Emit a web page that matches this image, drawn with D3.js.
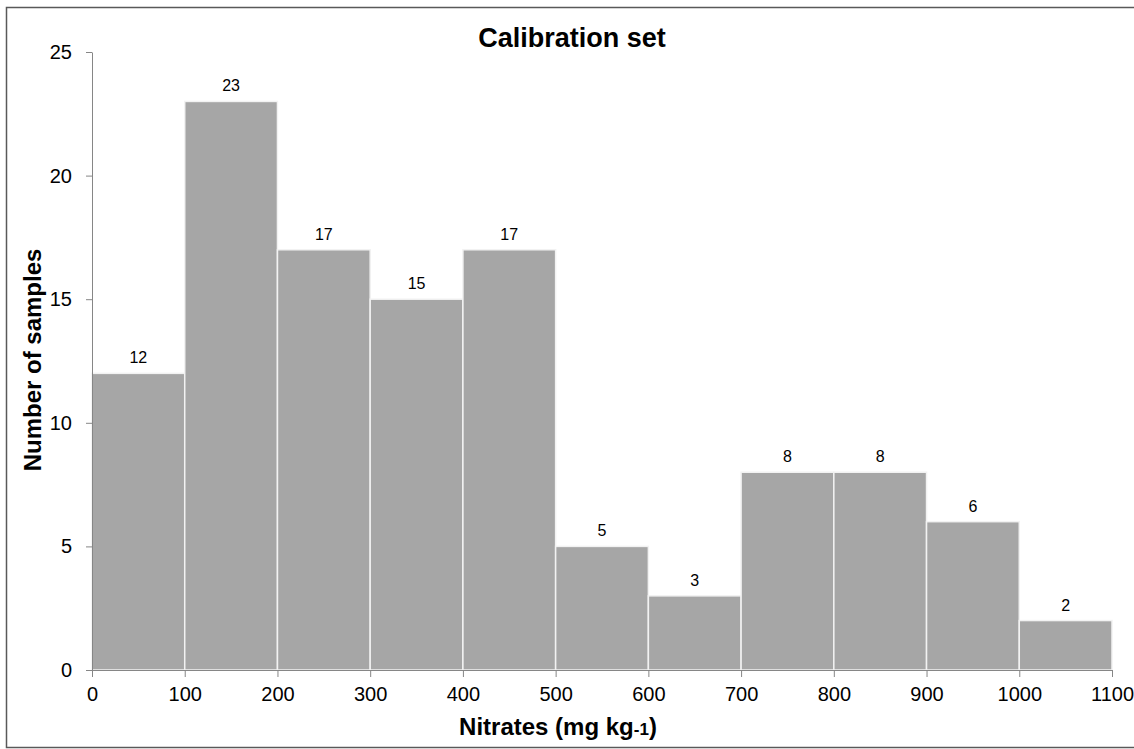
<!DOCTYPE html>
<html>
<head>
<meta charset="utf-8">
<script src="https://cdn.jsdelivr.net/npm/d3@7"></script>
<style>
  body { margin: 0; background: #fff; }
  svg { display: block; font-family: "Liberation Sans", Arial, sans-serif; }
  .axis path, .axis line { stroke: #868686; }
  .axis text { fill: #000; font-size: 20px; font-family: "Liberation Sans", Arial, sans-serif; }
</style>
</head>
<body>
<div id="chart"></div>
<script>
// bin edges and counts
var binEdges = [0, 100, 200, 300, 400, 500, 600, 700, 800, 900, 1000, 1100];
var counts = [12, 23, 17, 15, 17, 5, 3, 8, 8, 6, 2];
var yTicks = [0, 5, 10, 15, 20, 25];

var W = 1134, H = 749;
var margin = {top: 52, right: 22, bottom: 79, left: 92};

var svg = d3.select("#chart").append("svg")
  .attr("width", W)
  .attr("height", H);

// outer frame (right side runs off the picture)
svg.append("rect")
  .attr("x", 6.5).attr("y", 7.5)
  .attr("width", 1160).attr("height", 740)
  .attr("fill", "none")
  .attr("stroke", "#595959")
  .attr("stroke-width", 1.5);

var x = d3.scaleLinear()
  .domain([0, 1100])
  .range([margin.left, W - margin.right]);

var y = d3.scaleLinear()
  .domain([0, 25])
  .range([H - margin.bottom, margin.top]);

var bins = counts.map(function(c, i) {
  return {x0: binEdges[i], x1: binEdges[i + 1], n: c};
});

// bars
svg.append("g").selectAll("rect")
  .data(bins)
  .enter()
  .append("rect")
  .attr("x", function(d) { return x(d.x0); })
  .attr("y", function(d) { return y(d.n); })
  .attr("width", function(d) { return x(d.x1) - x(d.x0); })
  .attr("height", function(d) { return y(0) - y(d.n); })
  .attr("fill", "#a6a6a6")
  .attr("stroke", "#f2f2f2")
  .attr("stroke-width", 1.5);

// value labels
svg.append("g").selectAll("text")
  .data(bins)
  .enter()
  .append("text")
  .attr("x", function(d) { return (x(d.x0) + x(d.x1)) / 2; })
  .attr("y", function(d) { return y(d.n) - 10; })
  .attr("text-anchor", "middle")
  .style("font-size", "16px")
  .text(function(d) { return d.n; });

// axes
var xAxis = d3.axisBottom(x)
  .tickValues(binEdges)
  .tickFormat(d3.format("d"))
  .tickSize(7)
  .tickPadding(10)
  .tickSizeOuter(0);

svg.append("g")
  .attr("class", "axis")
  .attr("transform", "translate(0," + y(0) + ")")
  .call(xAxis);

var yAxis = d3.axisLeft(y)
  .tickValues(yTicks)
  .tickFormat(d3.format("d"))
  .tickSize(6)
  .tickPadding(14)
  .tickSizeOuter(0);

svg.append("g")
  .attr("class", "axis")
  .attr("transform", "translate(" + margin.left + ",0)")
  .call(yAxis);

// title
svg.append("text")
  .attr("x", 572)
  .attr("y", 47)
  .attr("text-anchor", "middle")
  .style("font-size", "27px")
  .style("font-weight", "bold")
  .text("Calibration set");

// y label
svg.append("text")
  .attr("transform", "translate(41," + 360 + ") rotate(-90)")
  .attr("text-anchor", "middle")
  .style("font-size", "24px")
  .style("font-weight", "bold")
  .text("Number of samples");

// x label with smaller "-1"
var xl = svg.append("text")
  .attr("x", 558)
  .attr("y", 735)
  .attr("text-anchor", "middle")
  .style("font-size", "24px")
  .style("font-weight", "bold");
xl.append("tspan").text("Nitrates (mg kg");
xl.append("tspan").style("font-size", "17px").text("-1");
xl.append("tspan").text(")");
</script>
</body>
</html>
